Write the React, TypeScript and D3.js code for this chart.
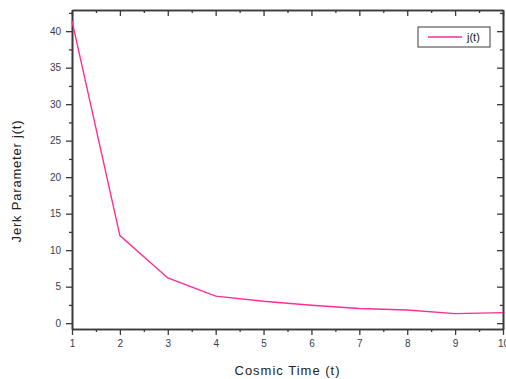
import React, { useEffect, useRef } from "react";
import * as d3 from "d3";

// Data
const times = [1, 2, 3, 4, 5, 6, 7, 8, 9, 10];
const jerk = [41.4, 12.0, 6.2, 3.7, 3.0, 2.45, 2.0, 1.8, 1.3, 1.45];
const xTicks = [1, 2, 3, 4, 5, 6, 7, 8, 9, 10];
const yTicks = [0, 5, 10, 15, 20, 25, 30, 35, 40];
const seriesName = "j(t)";

const App: React.FC = () => {
  const svgRef = useRef<SVGSVGElement | null>(null);
  const W = 506;
  const H = 379;
  const margin = { top: 10, right: 3, bottom: 50, left: 72 };
  const width = W - margin.left - margin.right;
  const height = H - margin.top - margin.bottom;
  const lineColor = "#ff2d95";
  const axisColor = "#3a3a3a";

  useEffect(() => {
    if (!svgRef.current) return;
    const svg = d3.select(svgRef.current);
    svg.selectAll("*").remove();

    const x = d3.scaleLinear().domain([1, 10]).range([0, width]);
    const y = d3.scaleLinear().domain([-0.8, 42.9]).range([height, 0]);

    const chart = svg
      .append("g")
      .attr("transform", `translate(${margin.left},${margin.top})`);

    const minorX = d3.range(1.5, 10, 1);
    const minorY = d3.range(2.5, 43, 5);

    // bottom axis
    const bottom = chart
      .append("g")
      .attr("transform", `translate(0,${height})`)
      .call(d3.axisBottom(x).tickValues(xTicks).tickSize(6).tickSizeOuter(0).tickPadding(5));
    chart
      .append("g")
      .attr("transform", `translate(0,${height})`)
      .call(d3.axisBottom(x).tickValues(minorX).tickSize(3).tickSizeOuter(0).tickFormat(() => ""));

    // left axis
    const left = chart
      .append("g")
      .call(d3.axisLeft(y).tickValues(yTicks).tickSize(6).tickSizeOuter(0).tickPadding(5));
    chart
      .append("g")
      .call(d3.axisLeft(y).tickValues(minorY).tickSize(3).tickSizeOuter(0).tickFormat(() => ""));

    // top axis (inward ticks)
    chart
      .append("g")
      .call(d3.axisTop(x).tickValues(xTicks).tickSize(-6).tickSizeOuter(0).tickFormat(() => ""));
    chart
      .append("g")
      .call(d3.axisTop(x).tickValues(minorX).tickSize(-3).tickSizeOuter(0).tickFormat(() => ""));

    // right axis (inward ticks)
    chart
      .append("g")
      .attr("transform", `translate(${width},0)`)
      .call(d3.axisRight(y).tickValues(yTicks).tickSize(-6).tickSizeOuter(0).tickFormat(() => ""));
    chart
      .append("g")
      .attr("transform", `translate(${width},0)`)
      .call(d3.axisRight(y).tickValues(minorY).tickSize(-3).tickSizeOuter(0).tickFormat(() => ""));

    chart.selectAll(".domain").attr("stroke", axisColor).attr("stroke-width", 1.6);
    chart.selectAll(".tick line").attr("stroke", axisColor).attr("stroke-width", 1.3);
    [bottom, left].forEach((g) =>
      g
        .selectAll("text")
        .attr("fill", "#3b3b4a")
        .style("font-family", "'Liberation Sans', Arial, sans-serif")
        .style("font-size", "10px")
    );

    // data line
    const line = d3
      .line<number>()
      .x((_d, i) => x(times[i]))
      .y((d) => y(d));
    chart
      .append("path")
      .datum(jerk)
      .attr("fill", "none")
      .attr("stroke", lineColor)
      .attr("stroke-width", 1.4)
      .attr("d", line);

    // axis titles
    svg
      .append("text")
      .attr("x", margin.left + width / 2)
      .attr("y", 375)
      .attr("text-anchor", "middle")
      .style("font-family", "'Liberation Sans', Arial, sans-serif")
      .style("font-size", "13px")
      .style("letter-spacing", "1px")
      .attr("fill", "#222")
      .text("Cosmic Time (t)");

    svg
      .append("text")
      .attr("transform", `translate(21,181) rotate(-90)`)
      .attr("text-anchor", "middle")
      .style("font-family", "'Liberation Sans', Arial, sans-serif")
      .style("font-size", "13px")
      .style("letter-spacing", "0.8px")
      .attr("fill", "#222")
      .text("Jerk Parameter j(t)");

    // legend
    const legend = svg.append("g").attr("transform", "translate(418,27)");
    legend
      .append("rect")
      .attr("width", 72)
      .attr("height", 20)
      .attr("fill", "white")
      .attr("stroke", axisColor)
      .attr("stroke-width", 1);
    legend
      .append("line")
      .attr("x1", 10)
      .attr("x2", 44)
      .attr("y1", 10)
      .attr("y2", 10)
      .attr("stroke", lineColor)
      .attr("stroke-width", 1.4);
    legend
      .append("text")
      .attr("x", 49)
      .attr("y", 14)
      .style("font-family", "'Liberation Sans', Arial, sans-serif")
      .style("font-size", "11px")
      .attr("fill", "#222")
      .text(seriesName);
  }, []);

  return (
    <svg
      ref={svgRef}
      width={W}
      height={H}
      style={{ position: "absolute", left: 0, top: 0, background: "white" }}
    ></svg>
  );
};

export default App;
